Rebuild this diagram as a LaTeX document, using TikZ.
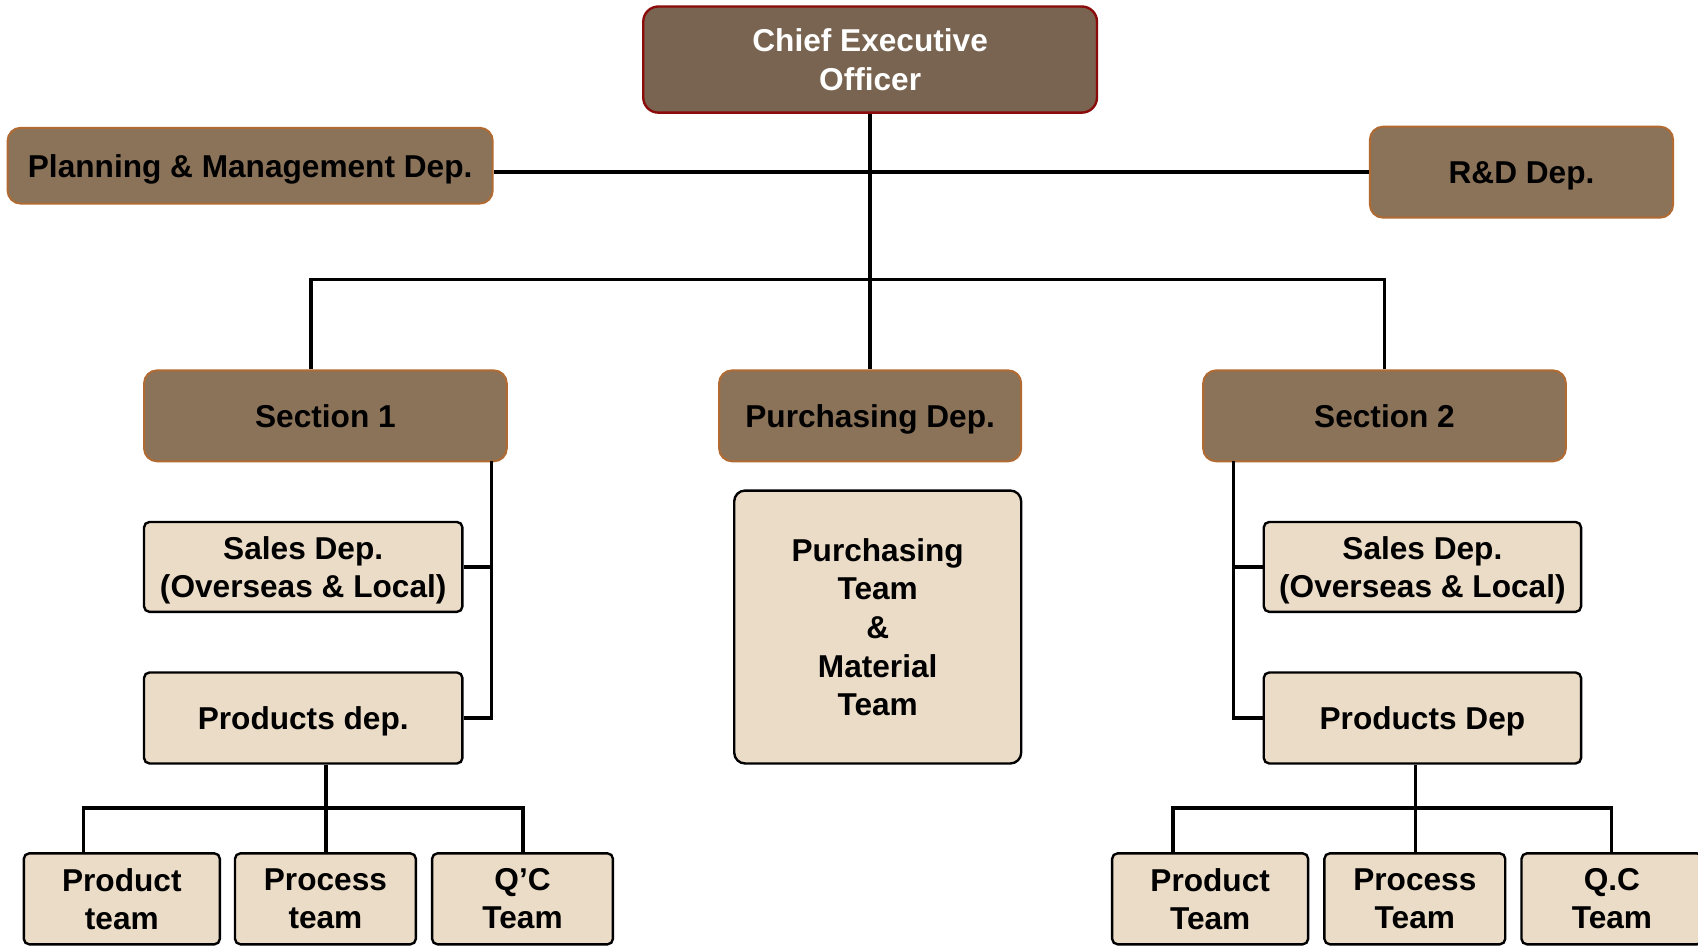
\documentclass[tikz,border=0pt]{standalone}
\usepackage{fontspec}
\setmainfont{Liberation Sans}
\definecolor{ceofill}{HTML}{786450}
\definecolor{ceoline}{HTML}{8B0A0A}
\definecolor{brownfill}{HTML}{8B735A}
\definecolor{brownline}{HTML}{B06A32}
\definecolor{beigefill}{HTML}{EBDCC8}
\tikzset{
  lbl/.style={font=\fontsize{14.6}{17.6}\selectfont\bfseries, align=center, inner sep=0pt, text depth=0pt},
  ceobox/.style={lbl, draw=ceoline, fill=ceofill, line width=1.1pt, rounded corners=7pt, text=white},
  brownbox/.style={lbl, draw=brownline, fill=brownfill, line width=0.9pt, rounded corners=6pt, text=black},
  beigebox/.style={lbl, draw=black, fill=beigefill, line width=1.1pt, rounded corners=2.5pt, text=black},
  conn/.style={draw=black, line width=1.6pt},
}
\begin{document}
\begin{tikzpicture}[x=0.5pt, y=-0.5pt]
\useasboundingbox (0,0) rectangle (1568,873);
\fill[white] (0,0) rectangle (1568,873);
% top level
\node[ceobox, minimum width=209.5pt, minimum height=49pt] (ceo) at (803.5,55) {Chief Executive\\Officer};
\node[brownbox, minimum width=224pt, minimum height=35pt] (plan) at (231,153) {Planning \& Management Dep.};
\node[brownbox, minimum width=140pt, minimum height=42pt] (rd) at (1405,159) {R\&D Dep.};
% sections
\node[brownbox, minimum width=167.5pt, minimum height=42pt] (sec1) at (300.5,384) {Section 1};
\node[brownbox, minimum width=139.5pt, minimum height=42pt] (purch) at (803.5,384) {Purchasing Dep.};
\node[brownbox, minimum width=167.5pt, minimum height=42pt] (sec2) at (1278.5,384) {Section 2};
% departments
\node[beigebox, minimum width=147pt, minimum height=41.5pt] (salesL) at (280,523.5) {Sales Dep.\\(Overseas \& Local)};
\node[beigebox, minimum width=147pt, minimum height=42pt] (prodL) at (280,663) {Products dep.};
\node[beigebox, minimum width=132.5pt, minimum height=126pt, rounded corners=5pt, font=\fontsize{14.6}{17.8}\selectfont\bfseries] (pteam) at (810.5,579) {Purchasing\\Team\\\&\\Material\\Team};
\node[beigebox, minimum width=146.5pt, minimum height=41.5pt] (salesR) at (1313.5,523.5) {Sales Dep.\\(Overseas \& Local)};
\node[beigebox, minimum width=146.5pt, minimum height=42pt] (prodR) at (1313.5,663) {Products Dep};
% teams
\node[beigebox, minimum width=90.5pt, minimum height=42pt] (b1) at (112.5,830) {Product\\team};
\node[beigebox, minimum width=83.5pt, minimum height=42pt] (b2) at (300.5,830) {Process\\team};
\node[beigebox, minimum width=83.5pt, minimum height=42pt] (b3) at (482.5,830) {Q’C\\Team};
\node[beigebox, minimum width=90.5pt, minimum height=42pt] (b4) at (1117.5,830) {Product\\Team};
\node[beigebox, minimum width=83.5pt, minimum height=42pt] (b5) at (1306.5,830) {Process\\Team};
\node[beigebox, minimum width=83.5pt, minimum height=42pt] (b6) at (1488.5,830) {Q.C\\Team};
% connectors
\path[conn] (ceo.south) -- (purch.north);
\path[conn] (rd.west) -- (rd.west -| plan.east);
\coordinate (j1) at (287,258);
\path[conn] (j1 |- sec1.north) -- (j1) -- (j1 -| sec2.north) -- (sec2.north);
\coordinate (lbt) at (454,426);
\path[conn] (lbt) |- (prodL.east);
\path[conn] (salesL.east) -- (salesL.east -| lbt);
\coordinate (rbt) at (1139,426);
\path[conn] (rbt) |- (prodR.west);
\path[conn] (salesR.west) -- (salesR.west -| rbt);
\coordinate (lbus) at (301,746);
\coordinate (lb1) at (77,746);
\coordinate (lb3) at (483,746);
\path[conn] (lbus |- prodL.south) -- (lbus |- b2.north);
\path[conn] (lb1 |- b1.north) -- (lb1) -- (lb3) -- (lb3 |- b3.north);
\coordinate (rbus) at (1307,746);
\coordinate (rb1) at (1083,746);
\coordinate (rb3) at (1488,746);
\path[conn] (rbus |- prodR.south) -- (rbus |- b5.north);
\path[conn] (rb1 |- b4.north) -- (rb1) -- (rb3) -- (rb3 |- b6.north);
\end{tikzpicture}
\end{document}
